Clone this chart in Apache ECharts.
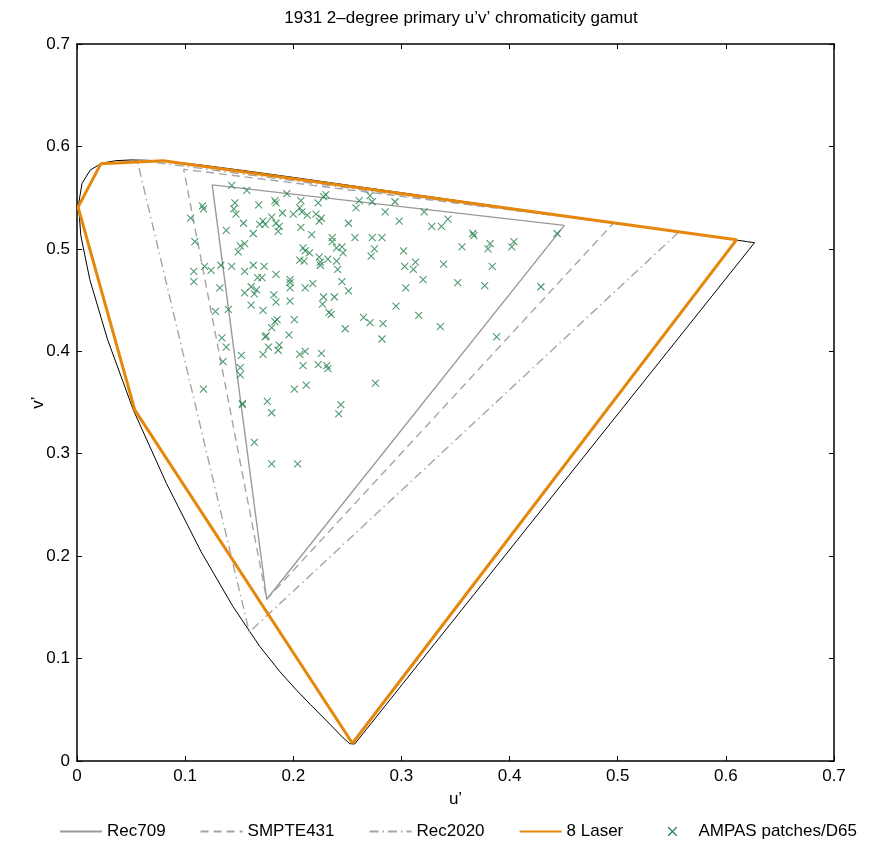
<!DOCTYPE html>
<html>
<head>
<meta charset="utf-8">
<script src="https://cdn.jsdelivr.net/npm/echarts@6.0.0/dist/echarts.min.js"></script>
<style>
html, body { margin: 0; background: #fff; }
#chart { width: 882px; height: 851px; }
</style>
</head>
<body>
<div id="chart"></div>
<script>
// CIE 1931 2-degree spectral locus in u'v' (380nm .. red end, closed by the purple line)
var locus = [
    [0.2568, 0.0166], [0.2522, 0.0169], [0.2461, 0.0226], [0.2347, 0.0350], [0.2266, 0.0437],
    [0.2161, 0.0549], [0.2033, 0.0688], [0.1877, 0.0871], [0.1690, 0.1119], [0.1441, 0.1510],
    [0.1147, 0.2044], [0.0828, 0.2708], [0.0521, 0.3427], [0.0282, 0.4117], [0.0119, 0.4698],
    [0.0035, 0.5131], [0.0014, 0.5432], [0.0046, 0.5638], [0.0123, 0.5770], [0.0231, 0.5837],
    [0.0360, 0.5861], [0.0501, 0.5868], [0.0643, 0.5865], [0.0792, 0.5856], [0.0953, 0.5841],
    [0.1127, 0.5821], [0.1531, 0.5766], [0.2026, 0.5694], [0.2623, 0.5604], [0.3315, 0.5501],
    [0.4035, 0.5393], [0.4692, 0.5296], [0.5203, 0.5219], [0.5565, 0.5165], [0.5830, 0.5125],
    [0.6005, 0.5099], [0.6109, 0.5084], [0.6199, 0.5070], [0.6265, 0.5060], [0.2568, 0.0166]
];

var rec709   = [[0.4507, 0.5229], [0.1250, 0.5625], [0.1754, 0.1579], [0.4507, 0.5229]];
var smpte431 = [[0.4964, 0.5255], [0.0986, 0.5777], [0.1754, 0.1579], [0.4964, 0.5255]];
var rec2020  = [[0.5566, 0.5165], [0.0556, 0.5868], [0.1593, 0.1258], [0.5566, 0.5165]];
var laser8   = [[0.2547, 0.0173], [0.0534, 0.3428], [0.0010, 0.5407], [0.0220, 0.5830],
                [0.0795, 0.5860], [0.6098, 0.5088], [0.2547, 0.0173]];

var ampas = [
    [0.143,0.562],[0.157,0.557],[0.194,0.554],[0.230,0.553],[0.228,0.551],[0.116,0.542],[0.117,0.539],[0.146,0.545],[0.145,0.539],[0.147,0.534],
    [0.168,0.543],[0.183,0.547],[0.184,0.545],[0.207,0.547],[0.206,0.540],[0.223,0.545],[0.190,0.535],[0.200,0.534],[0.208,0.536],[0.213,0.533],
    [0.221,0.534],[0.226,0.530],[0.224,0.527],[0.251,0.525],[0.105,0.530],[0.180,0.531],[0.172,0.527],[0.174,0.524],[0.169,0.524],[0.184,0.525],
    [0.187,0.522],[0.186,0.517],[0.154,0.525],[0.207,0.521],[0.163,0.515],[0.138,0.518],[0.217,0.514],[0.236,0.511],[0.236,0.507],[0.109,0.507],
    [0.155,0.505],[0.151,0.503],[0.149,0.497],[0.209,0.501],[0.211,0.498],[0.215,0.496],[0.240,0.501],[0.245,0.502],[0.246,0.496],[0.206,0.489],
    [0.210,0.488],[0.224,0.492],[0.225,0.487],[0.225,0.484],[0.232,0.490],[0.240,0.488],[0.241,0.480],[0.108,0.478],[0.108,0.468],[0.118,0.483],
    [0.124,0.479],[0.133,0.484],[0.143,0.483],[0.163,0.484],[0.173,0.483],[0.155,0.478],[0.184,0.475],[0.167,0.472],[0.171,0.472],[0.197,0.470],
    [0.197,0.467],[0.218,0.466],[0.245,0.468],[0.132,0.462],[0.161,0.463],[0.211,0.462],[0.251,0.459],[0.155,0.457],[0.166,0.460],[0.164,0.456],
    [0.197,0.462],[0.228,0.453],[0.227,0.446],[0.238,0.453],[0.182,0.455],[0.184,0.448],[0.161,0.445],[0.197,0.449],[0.128,0.439],[0.140,0.441],
    [0.172,0.440],[0.233,0.438],[0.235,0.436],[0.183,0.429],[0.185,0.431],[0.201,0.431],[0.180,0.423],[0.248,0.422],[0.174,0.414],[0.175,0.415],
    [0.196,0.416],[0.134,0.413],[0.138,0.404],[0.177,0.404],[0.187,0.406],[0.186,0.401],[0.172,0.397],[0.206,0.397],[0.211,0.400],[0.226,0.398],
    [0.152,0.396],[0.135,0.390],[0.209,0.386],[0.223,0.387],[0.231,0.386],[0.232,0.383],[0.151,0.384],[0.151,0.377],[0.117,0.363],[0.201,0.363],
    [0.212,0.367],[0.153,0.348],[0.153,0.349],[0.176,0.351],[0.180,0.340],[0.244,0.348],[0.242,0.339],[0.164,0.311],[0.180,0.290],[0.204,0.290],
    [0.271,0.552],[0.273,0.546],[0.261,0.547],[0.258,0.540],[0.294,0.546],[0.285,0.536],[0.321,0.536],[0.298,0.527],[0.328,0.522],[0.337,0.522],
    [0.343,0.529],[0.257,0.511],[0.273,0.511],[0.282,0.511],[0.366,0.515],[0.367,0.513],[0.444,0.515],[0.275,0.500],[0.272,0.493],[0.302,0.498],
    [0.356,0.502],[0.382,0.505],[0.380,0.500],[0.404,0.507],[0.402,0.502],[0.303,0.483],[0.313,0.487],[0.311,0.480],[0.339,0.485],[0.384,0.483],
    [0.320,0.470],[0.352,0.467],[0.377,0.464],[0.304,0.462],[0.429,0.463],[0.295,0.444],[0.265,0.433],[0.271,0.428],[0.283,0.427],[0.316,0.435],
    [0.336,0.424],[0.282,0.412],[0.388,0.414],[0.276,0.369]
];

var FONT = 'Liberation Sans';
var GREEN = '#24824e';
var ORANGE = '#e4870a';

var myChart = echarts.init(document.getElementById('chart'));

function boxAxis(pos, showLabel, name) {
    return {
        type: 'value',
        position: pos,
        min: 0,
        max: 0.7,
        interval: 0.1,
        name: name,
        nameLocation: 'middle',
        nameGap: 30,
        nameRotate: (pos == 'left') ? 90 : 0,
        nameMoveOverlap: false,
        nameTextStyle: { color: '#000', fontSize: 17, fontFamily: FONT },
        axisLine: { show: true, onZero: false, lineStyle: { color: '#000', width: 1.5 } },
        axisTick: { show: true, inside: true, length: 5, lineStyle: { color: '#000', width: 1 } },
        axisLabel: { show: showLabel, color: '#000', fontSize: 17, fontFamily: FONT, margin: 7 },
        splitLine: { show: false }
    };
}

var option = {
    animation: false,
    backgroundColor: '#fff',
    title: {
        text: '1931 2\u2013degree primary u\u2019v\u2019 chromaticity gamut',
        left: 456,
        top: 5,
        textAlign: 'center',
        textStyle: { color: '#000', fontSize: 17, fontWeight: 'normal', fontFamily: FONT }
    },
    grid: { left: 77, right: 48, top: 44, bottom: 90 },
    xAxis: [boxAxis('bottom', true, 'u\u2019'), boxAxis('top', false, '')],
    yAxis: [boxAxis('left', true, 'v\u2019'), boxAxis('right', false, '')],
    legend: {
        bottom: 6,
        left: 54,
        itemWidth: 42,
        itemHeight: 12,
        itemGap: 34,
        itemStyle: { opacity: 0 },
        textStyle: { color: '#000', fontSize: 17, fontFamily: FONT },
        data: [
            'Rec709', 'SMPTE431', 'Rec2020', '8 Laser',
            {
                name: 'AMPAS patches/D65',
                icon: 'path://M-12,-2L-12,-2M22,12L22,12M0,0L10,10M10,0L0,10',
                itemStyle: { opacity: 1, color: GREEN, borderColor: GREEN, borderWidth: 1.2 }
            }
        ]
    },
    series: [
        {
            name: 'locus', type: 'line', data: locus, symbol: 'none',
            lineStyle: { color: '#000', width: 1 }, z: 2
        },
        {
            name: 'Rec709', type: 'line', data: rec709, symbol: 'none',
            lineStyle: { color: '#9a9a9a', width: 1.4 }, itemStyle: { color: '#9a9a9a' }, z: 3
        },
        {
            name: 'SMPTE431', type: 'line', data: smpte431, symbol: 'none',
            lineStyle: { color: '#a5a5a5', width: 1.4, type: [8, 5] }, itemStyle: { color: '#a5a5a5' }, z: 3
        },
        {
            name: 'Rec2020', type: 'line', data: rec2020, symbol: 'none',
            lineStyle: { color: '#a5a5a5', width: 1.4, type: [9, 4, 1.5, 4] }, itemStyle: { color: '#a5a5a5' }, z: 3
        },
        {
            name: '8 Laser', type: 'line', data: laser8, symbol: 'none',
            lineStyle: { color: ORANGE, width: 3 }, itemStyle: { color: ORANGE }, z: 4
        },
        {
            name: 'AMPAS patches/D65', type: 'scatter', data: ampas,
            symbol: 'path://M0,0L10,10M10,0L0,10',
            symbolSize: 7,
            itemStyle: { color: GREEN, borderColor: GREEN, borderWidth: 1.1 },
            z: 5
        }
    ]
};

myChart.setOption(option);
</script>
</body>
</html>
